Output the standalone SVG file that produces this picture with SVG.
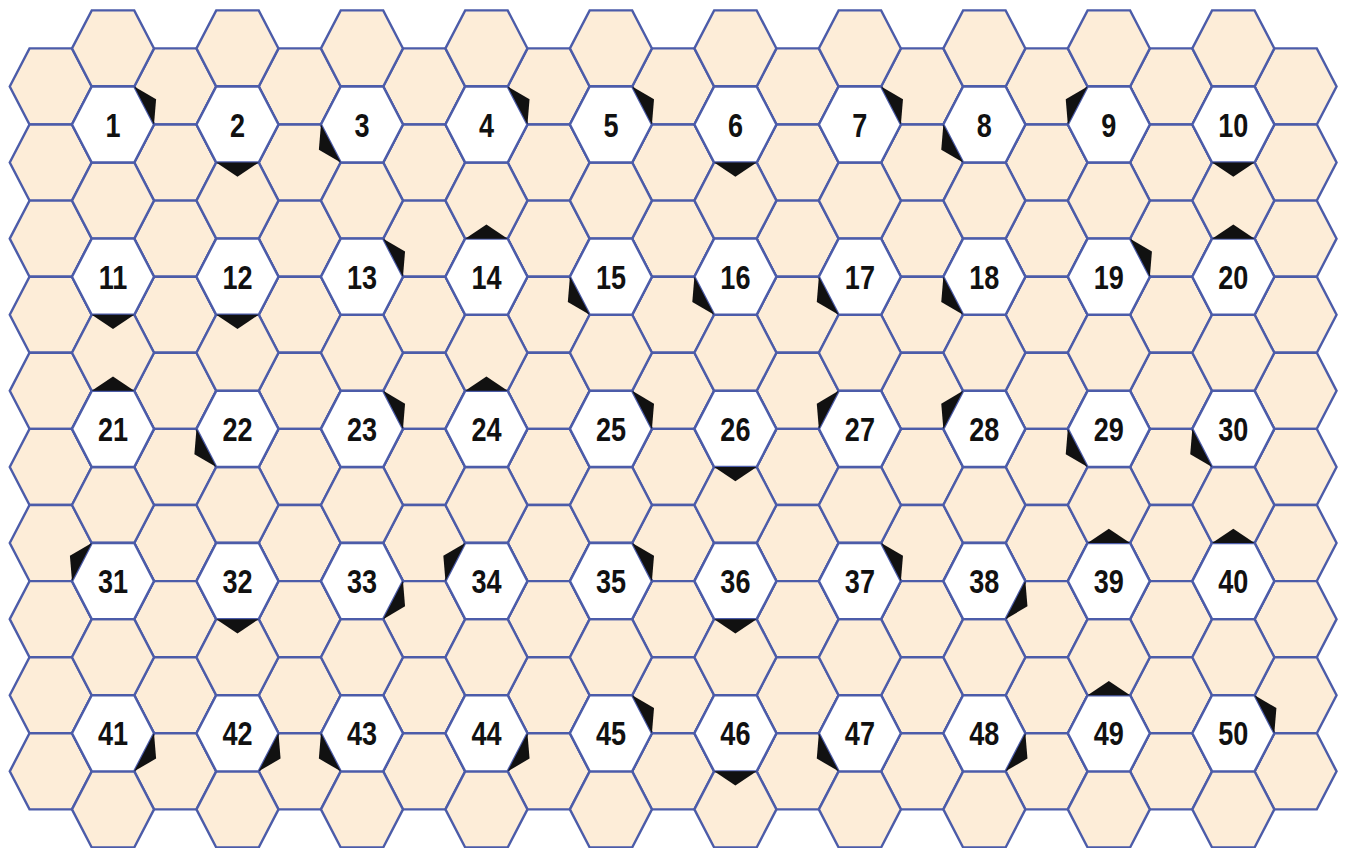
<svg xmlns="http://www.w3.org/2000/svg" xmlns:xlink="http://www.w3.org/1999/xlink" width="1349" height="848" viewBox="0 0 1349 848">
<style>
.bg{fill:#fdedd8;stroke:#4c5ca9;stroke-width:2.4}
.wh{fill:#ffffff;stroke:#4c5ca9;stroke-width:2.4}
.tri{fill:#111111;stroke:none}
.lb{font-family:"Liberation Sans",Arial,sans-serif;font-weight:bold;font-size:33px;fill:#111111;text-anchor:middle}
</style>
<defs>
<polygon id="hx" points="-41,0 -21.24,-38.05 21.24,-38.05 41,0 21.24,38.05 -21.24,38.05"/>
<path id="tN" d="M-21.24,-38.05 L21.24,-38.05 L0,-52.3Z"/>
<path id="tS" d="M-21.24,38.05 L21.24,38.05 L0,52.3Z"/>
<path id="tNE" d="M21.24,-38.05 L41,0 L43.1,-25.25Z"/>
<path id="tSE" d="M21.24,38.05 L41,0 L43.1,25.25Z"/>
<path id="tNW" d="M-21.24,-38.05 L-41,0 L-43.1,-25.25Z"/>
<path id="tSW" d="M-21.24,38.05 L-41,0 L-43.1,25.25Z"/>
<g id="colE">
<use href="#hx" y="86.45"/><use href="#hx" y="162.55"/><use href="#hx" y="238.65"/><use href="#hx" y="314.75"/><use href="#hx" y="390.85"/><use href="#hx" y="466.95"/><use href="#hx" y="543.05"/><use href="#hx" y="619.15"/><use href="#hx" y="695.25"/><use href="#hx" y="771.35"/>
</g>
<g id="colO">
<use href="#hx" y="48.4"/><use href="#hx" y="124.5"/><use href="#hx" y="200.6"/><use href="#hx" y="276.7"/><use href="#hx" y="352.8"/><use href="#hx" y="428.9"/><use href="#hx" y="505"/><use href="#hx" y="581.1"/><use href="#hx" y="657.2"/><use href="#hx" y="733.3"/><use href="#hx" y="809.4"/>
</g>
</defs>
<rect width="1349" height="848" fill="#ffffff"/>
<g id="grid" class="bg">
<use href="#colE" x="50.76"/><use href="#colE" x="175.24"/><use href="#colE" x="299.72"/><use href="#colE" x="424.2"/><use href="#colE" x="548.68"/><use href="#colE" x="673.16"/><use href="#colE" x="797.64"/><use href="#colE" x="922.12"/><use href="#colE" x="1046.6"/><use href="#colE" x="1171.08"/><use href="#colE" x="1295.56"/>
<use href="#colO" x="113"/><use href="#colO" x="237.48"/><use href="#colO" x="361.96"/><use href="#colO" x="486.44"/><use href="#colO" x="610.92"/><use href="#colO" x="735.4"/><use href="#colO" x="859.88"/><use href="#colO" x="984.36"/><use href="#colO" x="1108.84"/><use href="#colO" x="1233.32"/>
</g>
<g id="nodes">
<g id="n1" transform="translate(113,124.5)"><use href="#hx" class="wh"/><use href="#tNE" class="tri"/><text class="lb" transform="scale(0.82,1)" y="12">1</text></g>
<g id="n2" transform="translate(237.48,124.5)"><use href="#hx" class="wh"/><use href="#tS" class="tri"/><text class="lb" transform="scale(0.82,1)" y="12">2</text></g>
<g id="n3" transform="translate(361.96,124.5)"><use href="#hx" class="wh"/><use href="#tSW" class="tri"/><text class="lb" transform="scale(0.82,1)" y="12">3</text></g>
<g id="n4" transform="translate(486.44,124.5)"><use href="#hx" class="wh"/><use href="#tNE" class="tri"/><text class="lb" transform="scale(0.82,1)" y="12">4</text></g>
<g id="n5" transform="translate(610.92,124.5)"><use href="#hx" class="wh"/><use href="#tNE" class="tri"/><text class="lb" transform="scale(0.82,1)" y="12">5</text></g>
<g id="n6" transform="translate(735.4,124.5)"><use href="#hx" class="wh"/><use href="#tS" class="tri"/><text class="lb" transform="scale(0.82,1)" y="12">6</text></g>
<g id="n7" transform="translate(859.88,124.5)"><use href="#hx" class="wh"/><use href="#tNE" class="tri"/><text class="lb" transform="scale(0.82,1)" y="12">7</text></g>
<g id="n8" transform="translate(984.36,124.5)"><use href="#hx" class="wh"/><use href="#tSW" class="tri"/><text class="lb" transform="scale(0.82,1)" y="12">8</text></g>
<g id="n9" transform="translate(1108.84,124.5)"><use href="#hx" class="wh"/><use href="#tNW" class="tri"/><text class="lb" transform="scale(0.82,1)" y="12">9</text></g>
<g id="n10" transform="translate(1233.32,124.5)"><use href="#hx" class="wh"/><use href="#tS" class="tri"/><text class="lb" transform="scale(0.82,1)" y="12">10</text></g>
<g id="n11" transform="translate(113,276.7)"><use href="#hx" class="wh"/><use href="#tS" class="tri"/><text class="lb" transform="scale(0.82,1)" y="12">11</text></g>
<g id="n12" transform="translate(237.48,276.7)"><use href="#hx" class="wh"/><use href="#tS" class="tri"/><text class="lb" transform="scale(0.82,1)" y="12">12</text></g>
<g id="n13" transform="translate(361.96,276.7)"><use href="#hx" class="wh"/><use href="#tNE" class="tri"/><text class="lb" transform="scale(0.82,1)" y="12">13</text></g>
<g id="n14" transform="translate(486.44,276.7)"><use href="#hx" class="wh"/><use href="#tN" class="tri"/><text class="lb" transform="scale(0.82,1)" y="12">14</text></g>
<g id="n15" transform="translate(610.92,276.7)"><use href="#hx" class="wh"/><use href="#tSW" class="tri"/><text class="lb" transform="scale(0.82,1)" y="12">15</text></g>
<g id="n16" transform="translate(735.4,276.7)"><use href="#hx" class="wh"/><use href="#tSW" class="tri"/><text class="lb" transform="scale(0.82,1)" y="12">16</text></g>
<g id="n17" transform="translate(859.88,276.7)"><use href="#hx" class="wh"/><use href="#tSW" class="tri"/><text class="lb" transform="scale(0.82,1)" y="12">17</text></g>
<g id="n18" transform="translate(984.36,276.7)"><use href="#hx" class="wh"/><use href="#tSW" class="tri"/><text class="lb" transform="scale(0.82,1)" y="12">18</text></g>
<g id="n19" transform="translate(1108.84,276.7)"><use href="#hx" class="wh"/><use href="#tNE" class="tri"/><text class="lb" transform="scale(0.82,1)" y="12">19</text></g>
<g id="n20" transform="translate(1233.32,276.7)"><use href="#hx" class="wh"/><use href="#tN" class="tri"/><text class="lb" transform="scale(0.82,1)" y="12">20</text></g>
<g id="n21" transform="translate(113,428.9)"><use href="#hx" class="wh"/><use href="#tN" class="tri"/><text class="lb" transform="scale(0.82,1)" y="12">21</text></g>
<g id="n22" transform="translate(237.48,428.9)"><use href="#hx" class="wh"/><use href="#tSW" class="tri"/><text class="lb" transform="scale(0.82,1)" y="12">22</text></g>
<g id="n23" transform="translate(361.96,428.9)"><use href="#hx" class="wh"/><use href="#tNE" class="tri"/><text class="lb" transform="scale(0.82,1)" y="12">23</text></g>
<g id="n24" transform="translate(486.44,428.9)"><use href="#hx" class="wh"/><use href="#tN" class="tri"/><text class="lb" transform="scale(0.82,1)" y="12">24</text></g>
<g id="n25" transform="translate(610.92,428.9)"><use href="#hx" class="wh"/><use href="#tNE" class="tri"/><text class="lb" transform="scale(0.82,1)" y="12">25</text></g>
<g id="n26" transform="translate(735.4,428.9)"><use href="#hx" class="wh"/><use href="#tS" class="tri"/><text class="lb" transform="scale(0.82,1)" y="12">26</text></g>
<g id="n27" transform="translate(859.88,428.9)"><use href="#hx" class="wh"/><use href="#tNW" class="tri"/><text class="lb" transform="scale(0.82,1)" y="12">27</text></g>
<g id="n28" transform="translate(984.36,428.9)"><use href="#hx" class="wh"/><use href="#tNW" class="tri"/><text class="lb" transform="scale(0.82,1)" y="12">28</text></g>
<g id="n29" transform="translate(1108.84,428.9)"><use href="#hx" class="wh"/><use href="#tSW" class="tri"/><text class="lb" transform="scale(0.82,1)" y="12">29</text></g>
<g id="n30" transform="translate(1233.32,428.9)"><use href="#hx" class="wh"/><use href="#tSW" class="tri"/><text class="lb" transform="scale(0.82,1)" y="12">30</text></g>
<g id="n31" transform="translate(113,581.1)"><use href="#hx" class="wh"/><use href="#tNW" class="tri"/><text class="lb" transform="scale(0.82,1)" y="12">31</text></g>
<g id="n32" transform="translate(237.48,581.1)"><use href="#hx" class="wh"/><use href="#tS" class="tri"/><text class="lb" transform="scale(0.82,1)" y="12">32</text></g>
<g id="n33" transform="translate(361.96,581.1)"><use href="#hx" class="wh"/><use href="#tSE" class="tri"/><text class="lb" transform="scale(0.82,1)" y="12">33</text></g>
<g id="n34" transform="translate(486.44,581.1)"><use href="#hx" class="wh"/><use href="#tNW" class="tri"/><text class="lb" transform="scale(0.82,1)" y="12">34</text></g>
<g id="n35" transform="translate(610.92,581.1)"><use href="#hx" class="wh"/><use href="#tNE" class="tri"/><text class="lb" transform="scale(0.82,1)" y="12">35</text></g>
<g id="n36" transform="translate(735.4,581.1)"><use href="#hx" class="wh"/><use href="#tS" class="tri"/><text class="lb" transform="scale(0.82,1)" y="12">36</text></g>
<g id="n37" transform="translate(859.88,581.1)"><use href="#hx" class="wh"/><use href="#tNE" class="tri"/><text class="lb" transform="scale(0.82,1)" y="12">37</text></g>
<g id="n38" transform="translate(984.36,581.1)"><use href="#hx" class="wh"/><use href="#tSE" class="tri"/><text class="lb" transform="scale(0.82,1)" y="12">38</text></g>
<g id="n39" transform="translate(1108.84,581.1)"><use href="#hx" class="wh"/><use href="#tN" class="tri"/><text class="lb" transform="scale(0.82,1)" y="12">39</text></g>
<g id="n40" transform="translate(1233.32,581.1)"><use href="#hx" class="wh"/><use href="#tN" class="tri"/><text class="lb" transform="scale(0.82,1)" y="12">40</text></g>
<g id="n41" transform="translate(113,733.3)"><use href="#hx" class="wh"/><use href="#tSE" class="tri"/><text class="lb" transform="scale(0.82,1)" y="12">41</text></g>
<g id="n42" transform="translate(237.48,733.3)"><use href="#hx" class="wh"/><use href="#tSE" class="tri"/><text class="lb" transform="scale(0.82,1)" y="12">42</text></g>
<g id="n43" transform="translate(361.96,733.3)"><use href="#hx" class="wh"/><use href="#tSW" class="tri"/><text class="lb" transform="scale(0.82,1)" y="12">43</text></g>
<g id="n44" transform="translate(486.44,733.3)"><use href="#hx" class="wh"/><use href="#tSE" class="tri"/><text class="lb" transform="scale(0.82,1)" y="12">44</text></g>
<g id="n45" transform="translate(610.92,733.3)"><use href="#hx" class="wh"/><use href="#tNE" class="tri"/><text class="lb" transform="scale(0.82,1)" y="12">45</text></g>
<g id="n46" transform="translate(735.4,733.3)"><use href="#hx" class="wh"/><use href="#tS" class="tri"/><text class="lb" transform="scale(0.82,1)" y="12">46</text></g>
<g id="n47" transform="translate(859.88,733.3)"><use href="#hx" class="wh"/><use href="#tSW" class="tri"/><text class="lb" transform="scale(0.82,1)" y="12">47</text></g>
<g id="n48" transform="translate(984.36,733.3)"><use href="#hx" class="wh"/><use href="#tSE" class="tri"/><text class="lb" transform="scale(0.82,1)" y="12">48</text></g>
<g id="n49" transform="translate(1108.84,733.3)"><use href="#hx" class="wh"/><use href="#tN" class="tri"/><text class="lb" transform="scale(0.82,1)" y="12">49</text></g>
<g id="n50" transform="translate(1233.32,733.3)"><use href="#hx" class="wh"/><use href="#tNE" class="tri"/><text class="lb" transform="scale(0.82,1)" y="12">50</text></g>
</g>
</svg>
